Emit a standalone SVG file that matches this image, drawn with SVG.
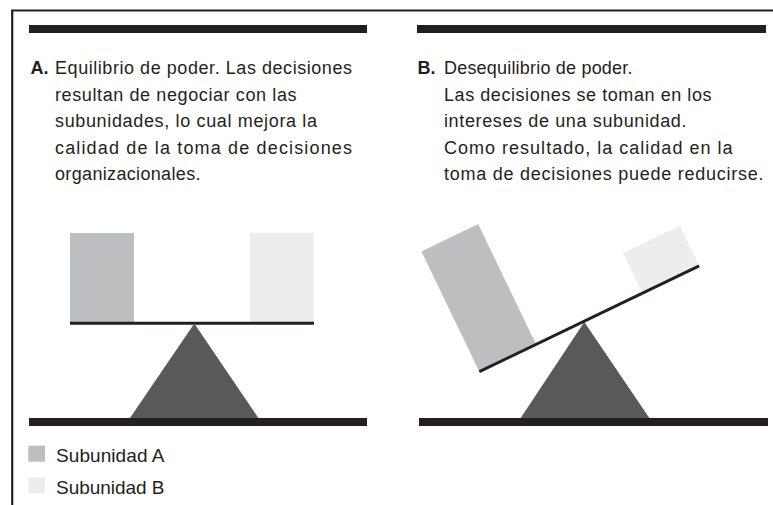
<svg xmlns="http://www.w3.org/2000/svg" width="773" height="505" viewBox="0 0 773 505">
<style>
.t{font-family:"Liberation Sans",Arial,sans-serif;font-size:18px;fill:#231f20}
.lg{font-size:19px}
.b{font-weight:bold}
.bar{fill:#231f20}
.plank{stroke:#231f20;stroke-width:3;fill:none}
.subA{fill:#bcbec0}
.subB{fill:#ededed}
.tri{fill:#58595b}
</style>
<rect width="773" height="505" fill="#ffffff"/>
<path d="M12.2,505 V10.5 H773" fill="none" stroke="#231f20" stroke-width="2.2"/>
<g id="panel-a">
<rect class="bar" x="29" y="25" width="338" height="8"/>
<text class="t b" x="30.5" y="74">A.</text>
<text class="t" x="55" y="74" textLength="297" lengthAdjust="spacing">Equilibrio de poder. Las decisiones</text>
<text class="t" x="55" y="100.7" textLength="241.5" lengthAdjust="spacing">resultan de negociar con las</text>
<text class="t" x="55" y="127.3" textLength="262" lengthAdjust="spacing">subunidades, lo cual mejora la</text>
<text class="t" x="55" y="154" textLength="297" lengthAdjust="spacing">calidad de la toma de decisiones</text>
<text class="t" x="55" y="180.3" textLength="145.5" lengthAdjust="spacing">organizacionales.</text>
<rect class="subA" x="70" y="233" width="64" height="89"/>
<rect class="subB" x="250" y="233" width="63.5" height="89"/>
<line class="plank" x1="70" y1="323.3" x2="314" y2="323.3"/>
<polygon class="tri" points="194.3,323.5 129.3,419 259,419"/>
<rect class="bar" x="29" y="418" width="338" height="8"/>
</g>
<g id="panel-b">
<rect class="bar" x="417" y="25" width="349" height="8"/>
<text class="t b" x="417.5" y="74">B.</text>
<text class="t" x="444" y="74" textLength="188.5" lengthAdjust="spacing">Desequilibrio de poder.</text>
<text class="t" x="444" y="100.7" textLength="267.5" lengthAdjust="spacing">Las decisiones se toman en los</text>
<text class="t" x="444" y="127.3" textLength="242.5" lengthAdjust="spacing">intereses de una subunidad.</text>
<text class="t" x="444" y="154" textLength="288.5" lengthAdjust="spacing">Como resultado, la calidad en la</text>
<text class="t" x="444" y="180.3" textLength="319.5" lengthAdjust="spacing">toma de decisiones puede reducirse.</text>
<polygon class="tri" points="584.3,322 520,419 650,419"/>
<g transform="translate(479.3,371.7) rotate(-25.7)">
<rect class="subA" x="0" y="-133.5" width="63" height="132"/>
<rect class="subB" x="181" y="-44.5" width="63" height="43"/>
<line class="plank" x1="0" y1="0" x2="244" y2="0"/>
</g>
<rect class="bar" x="419" y="418" width="349" height="8"/>
</g>
<g id="legend">
<rect class="subA" x="28.3" y="445.7" width="16.7" height="16"/>
<text class="t lg" x="56" y="462.2" textLength="108.5" lengthAdjust="spacing">Subunidad A</text>
<rect class="subB" x="28.3" y="477.3" width="16.7" height="16"/>
<text class="t lg" x="56" y="493.7" textLength="108.5" lengthAdjust="spacing">Subunidad B</text>
</g>
<g id="connectors"/>
</svg>
